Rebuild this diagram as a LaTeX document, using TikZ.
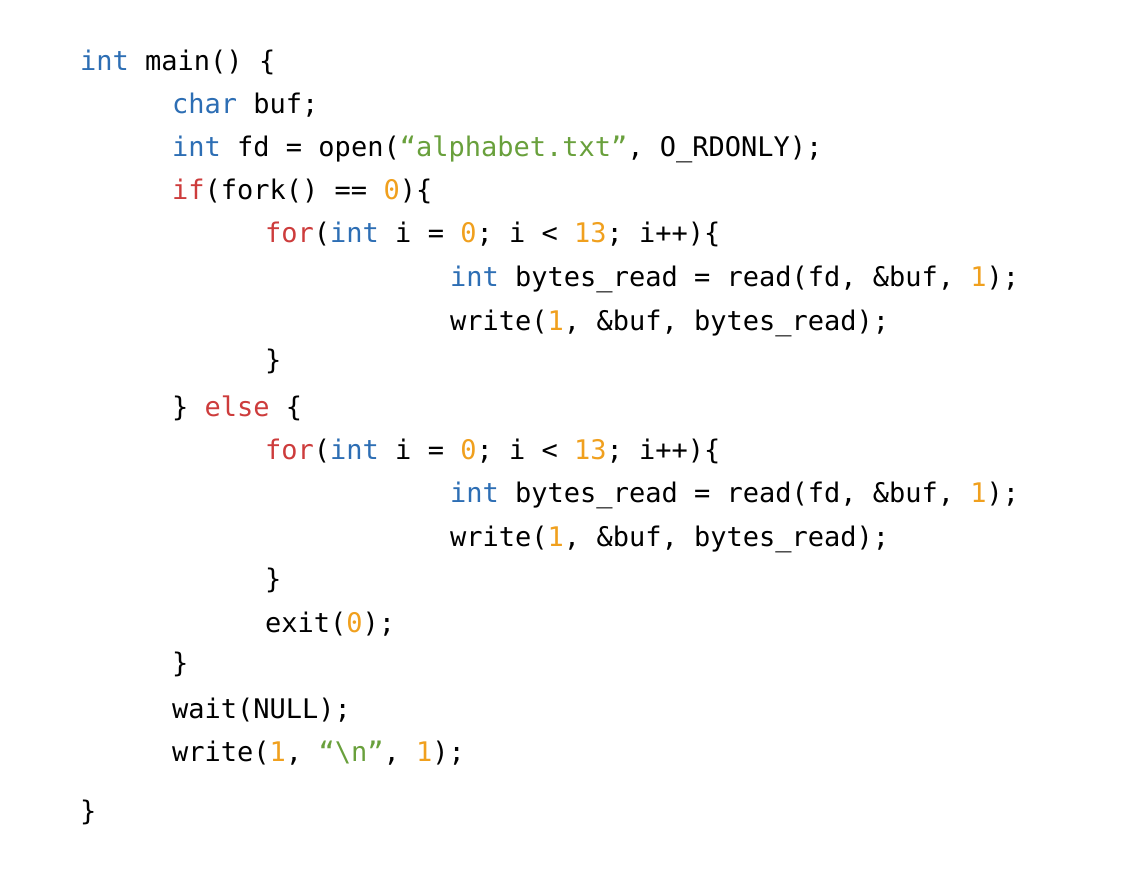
\documentclass[tikz,border=0pt]{standalone}
\usepackage{fontspec}
\setmonofont{DejaVu Sans Mono}
\definecolor{kw}{RGB}{45,110,180}
\definecolor{ct}{RGB}{205,60,60}
\definecolor{st}{RGB}{105,160,60}
\definecolor{nm}{RGB}{240,160,30}
\newcommand{\K}[1]{\textcolor{kw}{#1}}
\newcommand{\C}[1]{\textcolor{ct}{#1}}
\newcommand{\St}[1]{\textcolor{st}{#1}}
\newcommand{\N}[1]{\textcolor{nm}{#1}}
\begin{document}
\begin{tikzpicture}[x=1pt,y=-1pt,
  code/.style={anchor=base west,inner sep=0pt,font=\fontsize{27}{30}\selectfont\ttfamily}]
\useasboundingbox (0,0) rectangle (1132,892);
\node[code] (l1) at (80,70) {\K{int} main() \{};
\node[code] (l2) at (172,113) {\K{char} buf;};
\node[code] (l3) at (172,156) {\K{int} fd = open(\St{“alphabet.txt”}, O\_RDONLY);};
\node[code] (l4) at (172,199) {\C{if}(fork() == \N{0})\{};
\node[code] (l5) at (265,242) {\C{for}(\K{int} i = \N{0}; i < \N{13}; i++)\{};
\node[code] (l6) at (450,286) {\K{int} bytes\_read = read(fd, \&buf, \N{1});};
\node[code] (l7) at (450,330) {write(\N{1}, \&buf, bytes\_read);};
\node[code] (l8) at (265,369) {\}};
\node[code] (l9) at (172,416) {\} \C{else} \{};
\node[code] (l10) at (265,459) {\C{for}(\K{int} i = \N{0}; i < \N{13}; i++)\{};
\node[code] (l11) at (450,502) {\K{int} bytes\_read = read(fd, \&buf, \N{1});};
\node[code] (l12) at (450,546) {write(\N{1}, \&buf, bytes\_read);};
\node[code] (l13) at (265,588) {\}};
\node[code] (l14) at (265,632) {exit(\N{0});};
\node[code] (l15) at (172,672) {\}};
\node[code] (l16) at (172,718) {wait(NULL);};
\node[code] (l17) at (172,761) {write(\N{1}, \St{“\textbackslash n”}, \N{1});};
\node[code] (l18) at (80,820) {\}};
\end{tikzpicture}
\end{document}
